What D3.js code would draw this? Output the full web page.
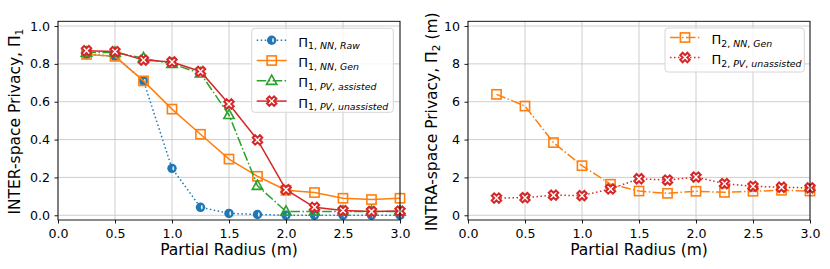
<!DOCTYPE html>
<html>
<head>
<meta charset="utf-8">
<script src="https://cdn.jsdelivr.net/npm/d3@7"></script>
<style>
  body { margin: 0; background: #fff; }
  svg { font-family: 'DejaVu Sans', sans-serif; }
</style>
</head>
<body>
<svg width="830" height="269"></svg>
<script>
const radius = [0.25, 0.5, 0.75, 1.0, 1.25, 1.5, 1.75, 2.0, 2.25, 2.5, 2.75, 3.0]

// INTER-space privacy
const interNNRaw = [0.85, 0.84, 0.71, 0.248, 0.042, 0.01, 0.004, 0.0, 0.0, 0.0, 0.0, 0.0]
const interNNGen = [0.85, 0.84, 0.71, 0.561, 0.428, 0.297, 0.206, 0.132, 0.12, 0.09, 0.083, 0.09]
const interPVAssisted = [0.86, 0.86, 0.83, 0.80, 0.75, 0.53, 0.156, 0.02, 0.02, 0.02, 0.02, 0.02]
const interPVUnassisted = [0.87, 0.865, 0.82, 0.81, 0.76, 0.588, 0.398, 0.135, 0.042, 0.025, 0.02, 0.022]

// INTRA-space privacy
const intraNNGen = [6.39, 5.77, 3.84, 2.62, 1.64, 1.28, 1.16, 1.27, 1.21, 1.27, 1.32, 1.28]
const intraPVUnassisted = [0.91, 0.93, 1.06, 1.04, 1.39, 1.93, 1.86, 2.02, 1.67, 1.53, 1.48, 1.45]

const xTicks = [0, 0.5, 1.0, 1.5, 2.0, 2.5, 3.0]
const interTicks = [0, 0.2, 0.4, 0.6, 0.8, 1.0]
const intraTicks = [0, 2, 4, 6, 8, 10]

const blue = '#1f77b4', orange = '#ff7f0e', green = '#2ca02c', red = '#d62728'
const dotted = '1.5,2.5', dashdot = '9.6,2.4,1.5,2.4'

const svg = d3.select('svg')
const plotTop = 21.3, plotBottom = 220

// marker drawing
function marker(g, kind, color, x, y) {
  if (kind === 'circle') {
    g.append('circle').attr('cx', x).attr('cy', y).attr('r', 4.7).attr('fill', color)
    g.append('ellipse').attr('cx', x + 1.3).attr('cy', y).attr('rx', 0.9).attr('ry', 2.2)
      .attr('fill', '#fff').attr('fill-opacity', 0.85)
  } else if (kind === 'square') {
    g.append('rect').attr('x', x - 4.6).attr('y', y - 4.6).attr('width', 9.2).attr('height', 9.2)
      .attr('fill', 'none').attr('stroke', color).attr('stroke-width', 1.6)
  } else if (kind === 'triangle') {
    g.append('path').attr('d', `M${x},${y - 5.7}L${x + 5.2},${y + 3.6}L${x - 5.2},${y + 3.6}Z`)
      .attr('fill', 'none').attr('stroke', color).attr('stroke-width', 1.6)
  } else if (kind === 'x') {
    g.append('path').attr('d', d3.symbol(d3.symbolCross, 56)())
      .attr('transform', `translate(${x},${y}) rotate(45)`)
      .attr('fill', '#fff').attr('stroke', color).attr('stroke-width', 2)
  }
}

function panel(opts) {
  const x = d3.scaleLinear().domain([0, 3]).range([opts.left, opts.right])
  const y = d3.scaleLinear().domain(opts.yDomain).range([plotBottom, plotTop])
  const g = svg.append('g')

  // grid
  g.selectAll('.vg').data(xTicks).enter().append('line')
    .attr('x1', d => x(d)).attr('x2', d => x(d)).attr('y1', plotTop).attr('y2', plotBottom)
    .attr('stroke', '#c8c8c8').attr('stroke-width', 0.9)
  g.selectAll('.hg').data(opts.yTicks).enter().append('line')
    .attr('x1', opts.left).attr('x2', opts.right).attr('y1', d => y(d)).attr('y2', d => y(d))
    .attr('stroke', '#c8c8c8').attr('stroke-width', 0.9)

  // series
  opts.series.forEach(s => {
    const line = d3.line().x((d, i) => x(radius[i])).y(d => y(d))
    g.append('path').datum(s.values).attr('d', line)
      .attr('fill', 'none').attr('stroke', s.color).attr('stroke-width', 1.5)
      .attr('stroke-dasharray', s.dash || null)
    const mg = g.append('g')
    s.values.forEach((v, i) => marker(mg, s.marker, s.color, x(radius[i]), y(v)))
  })

  // frame
  g.append('rect').attr('x', opts.left).attr('y', plotTop)
    .attr('width', opts.right - opts.left).attr('height', plotBottom - plotTop)
    .attr('fill', 'none').attr('stroke', '#000').attr('stroke-width', 0.9)

  // axes
  const xAxis = d3.axisBottom(x).tickValues(xTicks).tickFormat(d3.format('.1f')).tickSize(3.5).tickPadding(6)
  const ax = g.append('g').attr('transform', `translate(0,${plotBottom})`).call(xAxis)
  const yAxis = d3.axisLeft(y).tickValues(opts.yTicks).tickFormat(opts.yFormat).tickSize(3.5).tickPadding(4.5)
  const ay = g.append('g').attr('transform', `translate(${opts.left},0)`).call(yAxis)
  ;[ax, ay].forEach(a => {
    a.select('.domain').remove()
    a.selectAll('text').attr('font-size', 12.6).attr('fill', '#000').attr('font-family', 'DejaVu Sans')
    a.selectAll('line').attr('stroke-width', 0.9)
  })

  g.append('text').attr('x', (opts.left + opts.right) / 2).attr('y', 254.5)
    .attr('text-anchor', 'middle').attr('font-size', 15.5).text('Partial Radius (m)')

  const yl = g.append('text').attr('transform', `translate(${opts.yLabelX},${(plotTop + plotBottom) / 2 + 1}) rotate(-90)`)
    .attr('text-anchor', 'middle').attr('font-size', 15.5)
  yl.append('tspan').text(opts.yLabel[0])
  yl.append('tspan').attr('font-size', 10.5).attr('dy', 3).text(opts.yLabel[1])
  if (opts.yLabel[2]) yl.append('tspan').attr('dy', -3).text(opts.yLabel[2])

  // legend
  const lg = g.append('g')
  const L = opts.legend
  lg.append('rect').attr('x', L.x).attr('y', L.y).attr('width', L.w).attr('height', L.h)
    .attr('rx', 3).attr('fill', '#fff').attr('fill-opacity', 0.8)
    .attr('stroke', '#d6d6d6').attr('stroke-width', 1)
  opts.series.forEach((s, i) => {
    const cy = L.y + L.first + i * L.step
    lg.append('line').attr('x1', L.x + 5).attr('x2', L.x + 35).attr('y1', cy).attr('y2', cy)
      .attr('stroke', s.color).attr('stroke-width', 1.5).attr('stroke-dasharray', s.dash || null)
    marker(lg, s.marker, s.color, L.x + 20, cy)
    const t = lg.append('text').attr('x', L.x + 46.5).attr('y', cy + 6.5).attr('font-size', 13)
    t.append('tspan').text('Π')
    t.append('tspan').attr('font-size', 9.4).attr('dy', 2.5).text(s.sub[0] + ', ')
    t.append('tspan').attr('font-size', 9.4).attr('font-style', 'italic').text(s.sub[1])
    t.append('tspan').attr('font-size', 9.4).text(', ')
    t.append('tspan').attr('font-size', 9.4).attr('font-style', 'italic').text(s.sub[2])
  })
}

panel({
  left: 58, right: 400,
  yDomain: [-0.025, 1.025], yTicks: interTicks, yFormat: d3.format('.1f'),
  yLabel: ['INTER-space Privacy, Π', '1'], yLabelX: 20,
  legend: { x: 251.7, y: 28.3, w: 141.6, h: 84, first: 11.9, step: 20.3 },
  series: [
    { values: interNNRaw, color: blue, dash: dotted, marker: 'circle', sub: ['1', 'NN', 'Raw'] },
    { values: interNNGen, color: orange, marker: 'square', sub: ['1', 'NN', 'Gen'] },
    { values: interPVAssisted, color: green, dash: dashdot, marker: 'triangle', sub: ['1', 'PV', 'assisted'] },
    { values: interPVUnassisted, color: red, marker: 'x', sub: ['1', 'PV', 'unassisted'] }
  ]
})

panel({
  left: 468, right: 810,
  yDomain: [-0.25, 10.25], yTicks: intraTicks, yFormat: d3.format('d'),
  yLabel: ['INTRA-space Privacy, Π', '2', ' (m)'], yLabelX: 437,
  legend: { x: 665, y: 28, w: 139.3, h: 44, first: 9.5, step: 20 },
  series: [
    { values: intraNNGen, color: orange, dash: dashdot, marker: 'square', sub: ['2', 'NN', 'Gen'] },
    { values: intraPVUnassisted, color: red, dash: dotted, marker: 'x', sub: ['2', 'PV', 'unassisted'] }
  ]
})
</script>
</body>
</html>
